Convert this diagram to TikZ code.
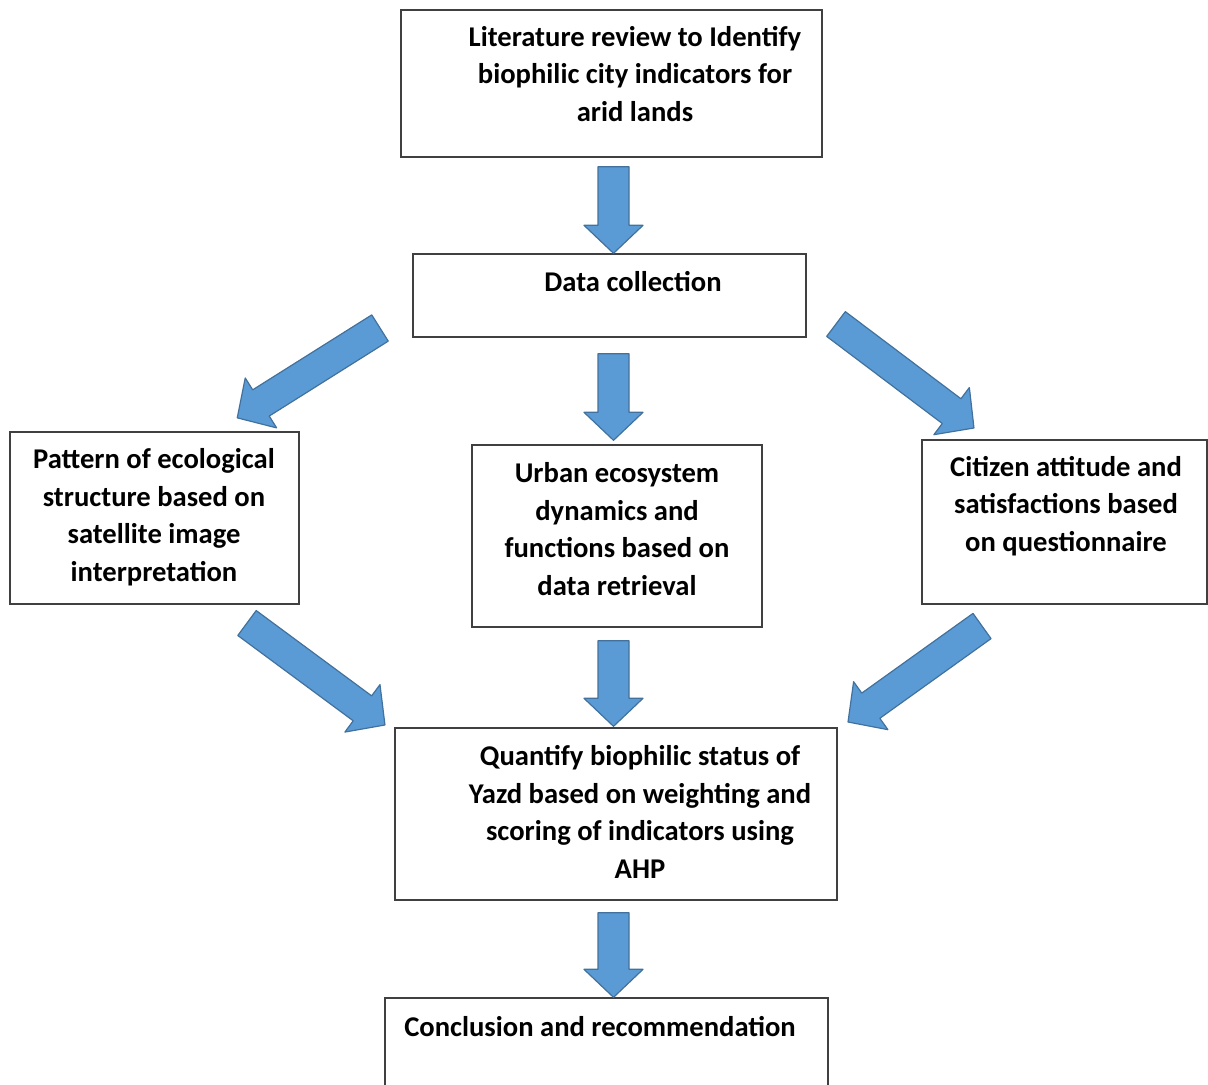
\documentclass[tikz,border=0pt]{standalone}
\usepackage{fontspec}
\setmainfont{Carlito}
\usetikzlibrary{calc}
\definecolor{arrowblue}{HTML}{5B9BD5}
\definecolor{arrowedge}{HTML}{41719C}
\definecolor{boxline}{HTML}{404040}

% fat block arrow from #1 to #2
\newcommand{\blockarrow}[2]{%
  \draw[bigarrow] let \p1=($(#2)-(#1)$), \n1={atan2(\y1,\x1)}, \n2={veclen(\x1,\y1)} in
    [shift={(#1)}, rotate=\n1]
    (0pt,-7.75pt) -- ({\n2-14pt},-7.75pt) -- ({\n2-14pt},-14.75pt) -- (\n2,0pt)
    -- ({\n2-14pt},14.75pt) -- ({\n2-14pt},7.75pt) -- (0pt,7.75pt) -- cycle;}

\begin{document}
\begin{tikzpicture}[x=0.5pt, y=-0.5pt,
    box/.style={draw=boxline, line width=0.7pt, rectangle, inner sep=0pt},
    txt/.style={align=center, font=\fontsize{14.3}{18.75}\selectfont\bfseries},
    bigarrow/.style={draw=arrowedge, fill=arrowblue, line width=0.6pt, line join=round}]
    \useasboundingbox (0,0) rectangle (1208,1084);

    % boxes
    \node[box, minimum width=210.5pt, minimum height=73.5pt] (lit) at (611.5,83.5) {};
    \node[box, minimum width=196.5pt, minimum height=41.5pt] (data) at (609.5,295.5) {};
    \node[box, minimum width=144.5pt, minimum height=86pt] (pat) at (154.5,518) {};
    \node[box, minimum width=145pt, minimum height=91pt] (urban) at (617,536) {};
    \node[box, minimum width=142.5pt, minimum height=82pt] (cit) at (1064.5,522) {};
    \node[box, minimum width=221pt, minimum height=86pt] (quant) at (616,814) {};
    \node[box, minimum width=221.5pt, minimum height=51pt] (conc) at (606.5,1049) {};

    % texts
    \node[txt] (lit-t) at (635,74) {Literature review to Identify\\biophilic city indicators for\\arid lands};
    \node[txt] (data-t) at (633,282) {Data collection};
    \node[txt] (pat-t) at (154,517) {Pattern of ecological\\structure based on\\satellite image\\interpretation};
    \node[txt] (urban-t) at (617,529) {Urban ecosystem\\dynamics and\\functions based on\\data retrieval};
    \node[txt] (cit-t) at (1066,506) {Citizen attitude and\\satisfactions based\\on questionnaire};
    \node[txt] (quant-t) at (640,812) {Quantify biophilic status of\\Yazd based on weighting and\\scoring of indicators using\\AHP};
    \node[txt] (conc-t) at (600,1027) {Conclusion and recommendation};

    % arrow ends
    \coordinate (a1) at ($(lit.south)+(2,9)$);
    \coordinate (b1) at ($(data.north)+(4,0)$);
    \coordinate (a2) at ($(data.south)+(4,16)$);
    \coordinate (b2) at ($(urban.north)+(-3.5,-4)$);
    \coordinate (a3) at ($(urban.south)+(-3.5,13)$);
    \coordinate (b3) at ($(quant.north)+(-2.5,-1)$);
    \coordinate (a4) at ($(quant.south)+(-2.5,12)$);
    \coordinate (b4) at ($(conc.north)+(7,0)$);
    \coordinate (l1) at (380,328);
    \coordinate (l2) at (237,418);
    \coordinate (r1) at (836,324);
    \coordinate (r2) at (974,428);
    \coordinate (l3) at (247,623);
    \coordinate (l4) at (385,725);
    \coordinate (r3) at (982,626);
    \coordinate (r4) at (848,722);

    \blockarrow{a1}{b1}
    \blockarrow{a2}{b2}
    \blockarrow{a3}{b3}
    \blockarrow{a4}{b4}
    \blockarrow{l1}{l2}
    \blockarrow{r1}{r2}
    \blockarrow{l3}{l4}
    \blockarrow{r3}{r4}
\end{tikzpicture}
\end{document}
